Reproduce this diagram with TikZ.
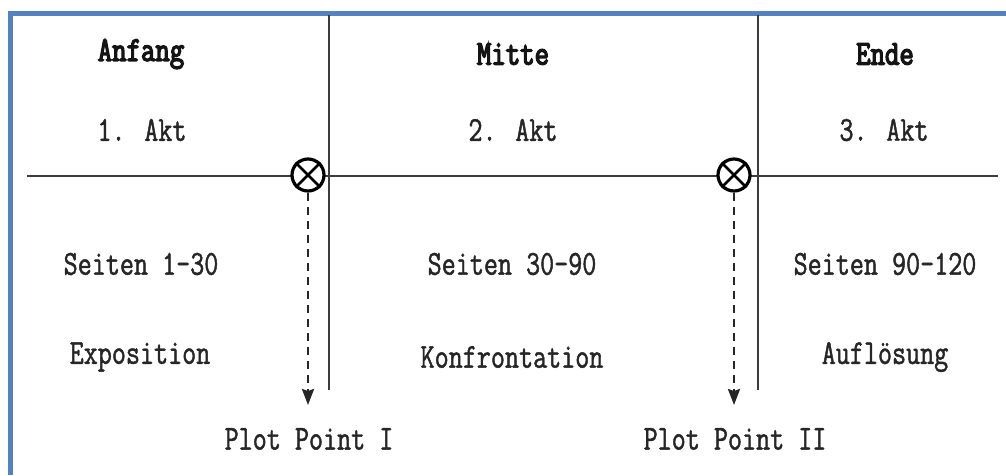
\documentclass[tikz,border=0pt]{standalone}
\usepackage{fontspec}
\usetikzlibrary{arrows.meta}
\newfontfamily\labfont{Latin Modern Mono}[FakeStretch=0.78,FakeBold=1.3]
\newfontfamily\headfont{Latin Modern Mono}[FakeStretch=0.8,FakeBold=3.8]
\definecolor{frameblue}{RGB}{84,130,192}
\definecolor{rulegray}{RGB}{60,60,60}
\tikzset{
  x=1pt, y=-1pt,
  frame/.style={draw=frameblue, line width=4.5pt},
  rule/.style={draw=rulegray, line width=2.8pt},
  txt/.style={font=\labfont\fontsize{35}{40}\selectfont, text=black!85, inner sep=0pt},
  head/.style={font=\headfont\fontsize{35}{40}\selectfont, text=black!92, inner sep=0pt},
  plotmark/.style={circle, draw=black, line width=3.2pt, minimum size=32pt, inner sep=0pt, fill=white},
  pparrow/.style={draw=black!85, line width=2.4pt, dash pattern=on 8pt off 6pt,
    -{Stealth[length=16pt,width=12pt,inset=2pt]}}
}
\begin{document}
\begin{tikzpicture}
\useasboundingbox (0,0) rectangle (1006,475);
% frame (top and left edges)
\draw[frame] (10.5,475) -- (10.5,13.5) -- (1006,13.5);
% time line and act boundaries
\coordinate (hl) at (27,176);
\coordinate (hr) at (998,176);
\coordinate (v1t) at (329,15);
\coordinate (v1b) at (329,390);
\coordinate (v2t) at (758,15);
\coordinate (v2b) at (758,390);
\draw[rule] (hl) -- (hr);
\draw[rule] (v1t) -- (v1b);
\draw[rule] (v2t) -- (v2b);
% act labels
\node[head] (anfang) at (141,54) {Anfang};
\node[head] (mitte) at (513,54) {Mitte};
\node[head] (ende) at (885,54) {Ende};
\node[txt] (akt1) at (142,130) {1. Akt};
\node[txt] (akt2) at (513,130) {2. Akt};
\node[txt] (akt3) at (884,130) {3. Akt};
\node[txt] (s1) at (141,264) {Seiten 1-30};
\node[txt] (s2) at (512,264) {Seiten 30-90};
\node[txt] (s3) at (885,264) {Seiten 90-120};
\node[txt] (e1) at (140,357) {Exposition};
\node[txt] (e2) at (512,357) {Konfrontation};
\node[txt] (e3) at (885,357) {Aufl\"osung};
% plot points
\node[plotmark] (pp1) at (308,175) {};
\draw[line width=2.8pt] (pp1.45) -- (pp1.225) (pp1.135) -- (pp1.315);
\node[plotmark] (pp2) at (734,175) {};
\draw[line width=2.8pt] (pp2.45) -- (pp2.225) (pp2.135) -- (pp2.315);
\node[txt] (ppl1) at (309,439) {Plot Point I};
\node[txt] (ppl2) at (735,439) {Plot Point II};
\coordinate (tip1) at (308,405);
\coordinate (tip2) at (734,405);
\draw[pparrow] (pp1.south) -- (tip1);
\draw[pparrow] (pp2.south) -- (tip2);
\end{tikzpicture}
\end{document}
